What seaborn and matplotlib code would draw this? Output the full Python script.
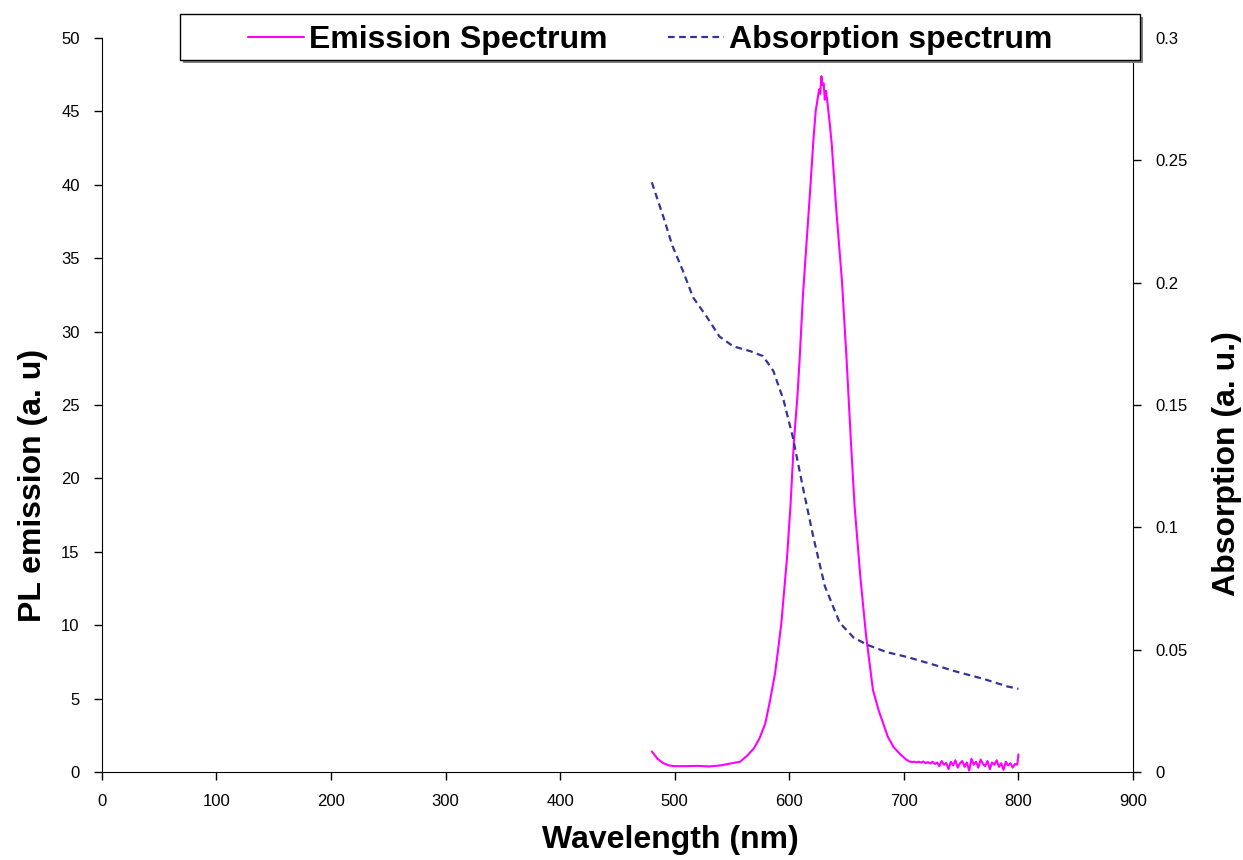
import numpy as np
import pandas as pd
import matplotlib
matplotlib.use('Agg')
import matplotlib.pyplot as plt
from matplotlib.patches import Rectangle
import seaborn as sns

# emission spectrum (PL, left axis)
em_wl = [480, 481, 485, 490, 495, 500, 510, 520, 530, 540, 550, 557, 563, 569, 574, 579,
         583, 587.5, 590, 593, 596, 598, 601, 604, 607, 609, 612, 615, 618, 621, 623, 626,
         627, 628, 629, 630, 631, 632, 633, 635, 637, 641, 646, 650, 654, 657, 662, 667,
         673, 678, 682, 686, 691, 697, 702,
         705, 707, 709, 711, 713, 715, 717, 719, 721, 723, 725, 727, 729, 731, 733, 735,
         737, 739, 741, 743, 745, 747, 749, 751, 753, 755, 757, 759, 761, 763, 765, 767,
         769, 771, 773, 775, 777, 779, 781, 783, 785, 787, 789, 791, 793, 795, 797, 799, 800]
em_val = [1.4, 1.3, 0.9, 0.6, 0.45, 0.4, 0.4, 0.42, 0.38, 0.45, 0.6, 0.7, 1.1, 1.6, 2.3, 3.3,
          4.8, 6.7, 8.2, 10.1, 12.8, 14.6, 18.1, 22.5, 25.5, 28.1, 32.6, 36.0, 39.4, 43.0, 45.0, 46.5,
          46.2, 47.4, 46.8, 46.9, 45.8, 46.4, 45.8, 44.4, 42.8, 38.3, 33.4, 28.1, 22.2, 18.1, 13.3, 9.3,
          5.6, 4.2, 3.3, 2.4, 1.7, 1.2, 0.85,
          0.72, 0.68, 0.7, 0.66, 0.7, 0.64, 0.72, 0.6, 0.68, 0.58, 0.7, 0.55, 0.65, 0.4, 0.75, 0.5,
          0.62, 0.2, 0.7, 0.45, 0.8, 0.3, 0.6, 0.75, 0.35, 0.65, 0.1, 0.9, 0.5, 0.7, 0.3, 0.85,
          0.55, 0.4, 0.75, 0.2, 0.65, 0.5, 0.8, 0.35, 0.6, 0.15, 0.7, 0.45, 0.6, 0.3, 0.55, 0.5, 1.2]

# absorption spectrum (right axis)
abs_wl = [480, 490, 498, 507, 516, 528, 539, 551, 566, 577, 586, 595, 603, 612, 621, 631,
          644, 656, 668, 685, 703, 725, 746, 770, 790, 800]
abs_val = [0.241, 0.227, 0.215, 0.205, 0.194, 0.186, 0.178, 0.174, 0.172, 0.170, 0.164, 0.152,
           0.137, 0.116, 0.096, 0.076, 0.061, 0.055, 0.052, 0.049, 0.047, 0.044, 0.041, 0.038,
           0.035, 0.034]

x_ticks = list(range(0, 1000, 100))
left_ticks = list(range(0, 55, 5))
right_ticks = [0, 0.05, 0.1, 0.15, 0.2, 0.25, 0.3]
right_labels = ['0', '0.05', '0.1', '0.15', '0.2', '0.25', '0.3']

em_df = pd.DataFrame({'wl': em_wl, 'val': em_val})
abs_df = pd.DataFrame({'wl': abs_wl, 'val': abs_val})

sns.set_style('ticks')
plt.rcParams['font.family'] = ['Liberation Sans', 'DejaVu Sans']

fig = plt.figure(figsize=(12.43, 8.6), dpi=100)
ax = fig.add_axes([0.082, 0.1023, 0.8295, 0.8535])
ax2 = ax.twinx()

sns.lineplot(data=em_df, x='wl', y='val', ax=ax, color='#FF00FF', linewidth=1.5,
             estimator=None, label='Emission Spectrum', legend=False)
sns.lineplot(data=abs_df, x='wl', y='val', ax=ax2, color='#333399', linewidth=1.6,
             estimator=None, label='Absorption spectrum', legend=False)
ax2.lines[0].set_dashes([3, 2])

ax.set_xlim(0, 900)
ax.set_ylim(0, 50)
ax2.set_ylim(0, 0.3)
ax.set_xticks(x_ticks)
ax.set_yticks(left_ticks)
ax2.set_yticks(right_ticks)
ax2.set_yticklabels(right_labels)

for a in (ax, ax2):
    a.spines['top'].set_visible(False)
    a.tick_params(direction='out', length=6, width=1, labelsize=12, colors='black', pad=10)
ax2.spines['left'].set_visible(False)
ax2.spines['bottom'].set_visible(False)
for s in ('left', 'bottom'):
    ax.spines[s].set_color('black')
ax.spines['right'].set_visible(False)
ax2.spines['right'].set_color('black')

# axis titles sit a little off-centre in the original
lab = {'fontsize': 23, 'fontweight': 'bold', 'color': 'black'}
ax.set_xlabel('Wavelength (nm)', **lab)
ax.set_ylabel('PL emission (a. u)', **lab)
ax2.set_ylabel('Absorption (a. u.)', **lab)
ax.xaxis.set_label_coords(0.551, -0.072)
ax.yaxis.set_label_coords(-0.052, 0.391)
ax2.yaxis.set_label_coords(1.077, 0.42)

# legend box spanning the top like the original (frame drawn separately)
bx, by, bw, bh = 180 / 1243, 1 - 60 / 860, 960 / 1243, 46 / 860
fig.patches.append(Rectangle((bx + 3 / 1243, by - 3 / 860), bw, bh, transform=fig.transFigure,
                             facecolor='#808080', edgecolor='none', zorder=4))
fig.patches.append(Rectangle((bx, by), bw, bh, transform=fig.transFigure,
                             facecolor='white', edgecolor='black', linewidth=1, zorder=5))

handles = ax.lines[:1] + ax2.lines[:1]
leg = fig.legend(handles, ['Emission Spectrum', 'Absorption spectrum'], ncol=2,
                 loc='center', bbox_to_anchor=(bx - 10 / 1243, by - 3 / 860, bw, bh),
                 prop={'size': 23, 'weight': 'bold'}, frameon=False,
                 handlelength=1.75, handletextpad=0.15, columnspacing=1.9,
                 borderaxespad=0, borderpad=0.1)
leg.set_zorder(6)
for t in leg.get_texts():
    t.set_color('black')

fig.savefig('out.png', dpi=100)
